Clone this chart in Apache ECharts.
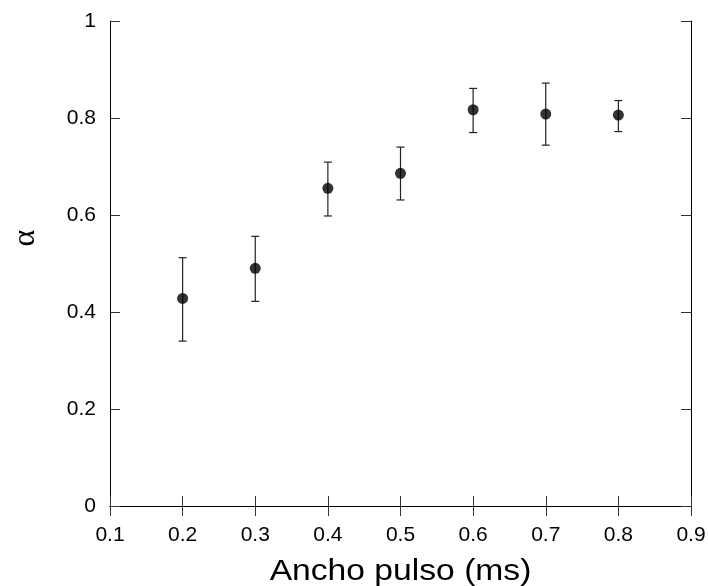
<!DOCTYPE html>
<html>
<head>
<meta charset="utf-8">
<script src="https://cdn.jsdelivr.net/npm/echarts@6/dist/echarts.min.js"></script>
<style>html,body{margin:0;padding:0;background:#fff}#c{width:708px;height:586px}</style>
</head>
<body>
<div id="c"></div>
<script>
var pulseWidth = [0.2, 0.3, 0.4, 0.5, 0.6, 0.7, 0.8];
var alphaValues = [0.428, 0.490, 0.655, 0.686, 0.817, 0.808, 0.806];
var errLow = [0.340, 0.422, 0.598, 0.631, 0.770, 0.744, 0.772];
var errHigh = [0.512, 0.556, 0.709, 0.740, 0.861, 0.872, 0.836];
var xTicks = ['0.1','0.2','0.3','0.4','0.5','0.6','0.7','0.8','0.9'];
var yTicks = ['0','0.2','0.4','0.6','0.8','1'];
var xTitle = 'Ancho pulso (ms)';
var yTitle = 'α';

var chart = echarts.init(document.getElementById('c'), null, {renderer: 'canvas'});
var font = 'Liberation Sans, Arial, sans-serif';
var points = pulseWidth.map(function (x, i) { return [x, alphaValues[i]]; });
var errData = pulseWidth.map(function (x, i) { return [x, errLow[i], errHigh[i]]; });

function fmtX(v) { var s = xTicks[Math.round((v - 0.1) * 10)]; return s === undefined ? '' : s; }
function fmtY(v) { var s = yTicks[Math.round(v * 5)]; return s === undefined ? '' : s; }

var axisLine = {show: true, lineStyle: {color: '#000', width: 1}};
var tick = {show: true, inside: true, length: 10, lineStyle: {color: '#333', width: 1}};

chart.setOption({
  animation: false,
  backgroundColor: '#fff',
  grid: {left: 110, right: 17, top: 21, bottom: 80, containLabel: false, outerBoundsMode: 'none'},
  xAxis: [{
    type: 'value', min: 0.1, max: 0.9, interval: 0.1, position: 'bottom',
    axisLine: axisLine, axisTick: tick, splitLine: {show: false},
    axisLabel: {formatter: fmtX, color: '#000', fontSize: 21, fontFamily: font, margin: 19}
  }, {
    type: 'value', min: 0.1, max: 0.9, interval: 0.1, position: 'top',
    axisLine: axisLine, axisTick: tick, splitLine: {show: false}, axisLabel: {show: false}
  }],
  yAxis: [{
    type: 'value', min: 0, max: 1, interval: 0.2, position: 'left',
    axisLine: axisLine, axisTick: tick, splitLine: {show: false},
    axisLabel: {formatter: fmtY, color: '#000', fontSize: 21, fontFamily: font, margin: 14}
  }, {
    type: 'value', min: 0, max: 1, interval: 0.2, position: 'right',
    axisLine: axisLine, axisTick: tick, splitLine: {show: false}, axisLabel: {show: false}
  }],
  graphic: [{
    type: 'text', x: 26, y: 238, rotation: Math.PI / 2,
    style: {text: yTitle, font: '32px "Liberation Serif", "DejaVu Serif", serif', fill: '#000',
      textAlign: 'center', textVerticalAlign: 'middle'}
  }, {
    type: 'text', x: 400.5, y: 572, scaleX: 1.16, scaleY: 1,
    style: {text: xTitle, font: '29px "Liberation Sans", Arial, sans-serif', fill: '#000',
      textAlign: 'center', textVerticalAlign: 'middle'}
  }],
  series: [{
    type: 'custom',
    data: errData,
    encode: {x: 0, y: [1, 2]},
    renderItem: function (params, api) {
      var x = api.value(0);
      var lo = api.coord([x, api.value(1)]);
      var hi = api.coord([x, api.value(2)]);
      var w = 4;
      var st = {stroke: '#222', lineWidth: 1.2};
      return {type: 'group', children: [
        {type: 'line', shape: {x1: lo[0], y1: lo[1], x2: hi[0], y2: hi[1]}, style: st},
        {type: 'line', shape: {x1: lo[0] - w, y1: lo[1], x2: lo[0] + w, y2: lo[1]}, style: st},
        {type: 'line', shape: {x1: hi[0] - w, y1: hi[1], x2: hi[0] + w, y2: hi[1]}, style: st}
      ]};
    },
    z: 2
  }, {
    type: 'scatter',
    data: points,
    symbol: 'circle',
    symbolSize: 11,
    itemStyle: {color: '#000'},
    z: 3
  }]
});
</script>
</body>
</html>
